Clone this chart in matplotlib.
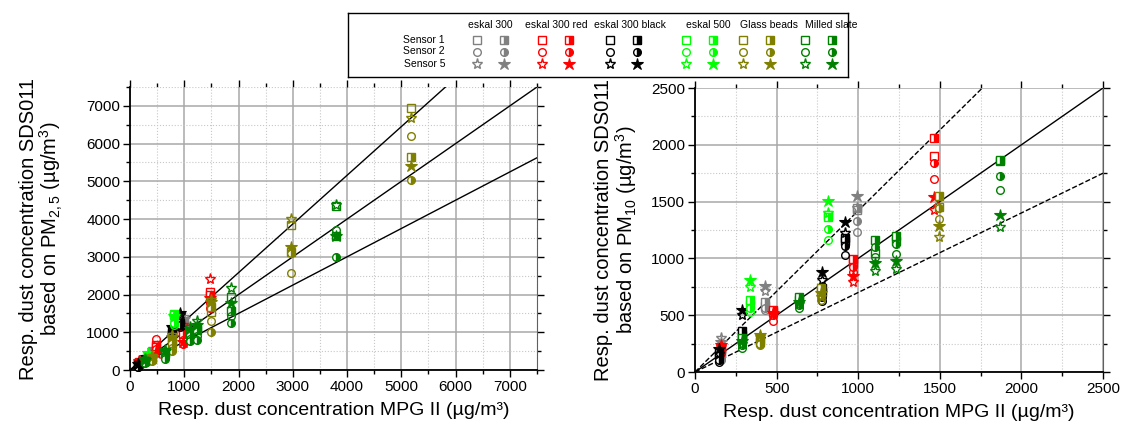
import matplotlib
matplotlib.use("Agg")
import matplotlib.pyplot as plt
from matplotlib.ticker import MultipleLocator

plt.rcParams['font.family'] = ['Liberation Sans', 'DejaVu Sans']
plt.rcParams['mathtext.fontset'] = 'custom'
plt.rcParams['mathtext.rm'] = 'Liberation Sans'
plt.rcParams['mathtext.it'] = 'Liberation Sans:italic'

# ==========================================
# Data
# ==========================================

materials = ["eskal 300", "eskal 300 red", "eskal 300 black", "eskal 500", "Glass beads", "Milled slate"]
colors = ["#808080", "#ff0000", "#000000", "#00ff00", "#808000", "#008000"]
sensors = ["Sensor 1", "Sensor 2", "Sensor 5"]
markers = ["s", "o", "*"]

# rows of every y table: S1 open, S1 half, S2 open, S2 half, S5 open, S5 half

# --- PM2.5 (left) ---
pm25_x_e300 = [160, 430, 990]
pm25_y_e300 = [[170, 480, 1300], [150, 450, 1250], [120, 420, 1200],
               [110, 400, 1180], [220, 560, 1400], [200, 520, 1350]]

pm25_x_red = [160, 470, 970, 1470]
pm25_y_red = [[200, 650, 1000, 2080], [180, 600, 950, 1980], [150, 820, 800, 1770],
              [140, 560, 700, 1650], [250, 480, 1200, 2420], [230, 450, 750, 1900]]

pm25_x_black = [150, 290, 780, 920]
pm25_y_black = [[130, 280, 1000, 1200], [120, 260, 950, 1250], [90, 220, 900, 1150],
                [80, 230, 880, 1180], [150, 320, 1100, 1450], [170, 350, 1150, 1500]]

pm25_x_e500 = [340, 810]
pm25_y_e500 = [[380, 1480], [360, 1450], [300, 1200],
               [320, 1250], [420, 1400], [450, 1420]]

pm25_x_glass = [400, 770, 1500, 2960, 5175]
pm25_y_glass = [[330, 780, 1550, 3850, 6950], [300, 720, 1680, 3140, 5640],
                [260, 580, 1300, 2580, 6210], [240, 500, 1020, 3100, 5040],
                [380, 920, 1860, 4000, 6680], [350, 880, 1800, 3270, 5410]]

pm25_x_slate = [285, 640, 1100, 1230, 1870, 3800]
pm25_y_slate = [[250, 480, 1000, 1150, 1945, 4340], [230, 430, 950, 1050, 1575, 3540],
                [200, 350, 820, 900, 1420, 3714], [190, 300, 760, 800, 1255, 3005],
                [280, 530, 1150, 1300, 2166, 4370], [270, 500, 1080, 1200, 1768, 3560]]

# --- PM10 (right) ---
pm10_x_e300 = [160, 430, 990]
pm10_y_e300 = [[180, 580, 1430], [170, 620, 1440], [120, 545, 1230],
               [110, 560, 1330], [300, 710, 1440], [260, 760, 1545]]

pm10_x_red = [160, 475, 970, 1465]
pm10_y_red = [[200, 530, 960, 1900], [210, 550, 992, 2057], [170, 445, 883, 1702],
              [180, 500, 921, 1837], [220, 510, 795, 1426], [240, 520, 845, 1543]]

pm10_x_black = [150, 290, 780, 920]
pm10_y_black = [[150, 330, 707, 1150], [180, 360, 736, 1176], [90, 280, 628, 1030],
                [110, 300, 663, 1112], [160, 502, 810, 1226], [200, 546, 883, 1323]]

pm10_x_e500 = [340, 815]
pm10_y_e500 = [[590, 1380], [634, 1361], [531, 1162],
               [566, 1259], [751, 1397], [810, 1508]]

pm10_x_glass = [400, 770, 1495]
pm10_y_glass = [[267, 722, 1455], [280, 736, 1549], [238, 634, 1344],
                [250, 678, 1446], [305, 663, 1191], [326, 692, 1285]]

pm10_x_slate = [285, 640, 1100, 1230, 1870]
pm10_y_slate = [[280, 634, 1045, 1150, 1860], [300, 663, 1162, 1200, 1866],
                [210, 560, 1015, 1039, 1602], [240, 590, 1103, 1127, 1725],
                [250, 600, 892, 904, 1279], [270, 620, 962, 977, 1382]]

pm25_x = [pm25_x_e300, pm25_x_red, pm25_x_black, pm25_x_e500, pm25_x_glass, pm25_x_slate]
pm25_y = [pm25_y_e300, pm25_y_red, pm25_y_black, pm25_y_e500, pm25_y_glass, pm25_y_slate]
pm10_x = [pm10_x_e300, pm10_x_red, pm10_x_black, pm10_x_e500, pm10_x_glass, pm10_x_slate]
pm10_y = [pm10_y_e300, pm10_y_red, pm10_y_black, pm10_y_e500, pm10_y_glass, pm10_y_slate]

# reference line slopes
pm25_slopes = [1.29, 1.0, 0.75]
pm10_slopes = [1.42, 1.0, 0.70]
pm10_styles = ["--", "-", "--"]


# ==========================================
# Helpers
# ==========================================

def marker_style(k, color):
    m = markers[k // 2]
    size = 8 if m == "*" else 5.5
    if k % 2 == 0:
        return dict(marker=m, ms=size, mfc="none", mec=color, mew=1.0, ls="none")
    if m == "*":
        return dict(marker=m, ms=size + 1, mfc=color, mec=color, mew=0.8, ls="none")
    return dict(marker=m, ms=size, fillstyle="right", mfc=color, mfcalt="white",
                mec=color, mew=1.0, ls="none")


def draw_points(ax, xs, ys):
    for color, x, rows in zip(colors, xs, ys):
        for k, y in enumerate(rows):
            ax.plot(x, y, clip_on=False, zorder=3, **marker_style(k, color))


def style_axes(ax, top, major, minor):
    ax.set_xlim(0, top)
    ax.set_ylim(0, top)
    for axis in (ax.xaxis, ax.yaxis):
        axis.set_major_locator(MultipleLocator(major))
        axis.set_minor_locator(MultipleLocator(minor))
    ax.grid(True, which="major", color="#a8a8a8", lw=1.1, ls="-")
    ax.grid(True, which="minor", color="#c8c8c8", lw=0.8, ls=":")
    ax.set_axisbelow(True)
    ax.tick_params(which="both", direction="out", top=True, right=True,
                   labelsize=11, width=1.0, pad=2)
    ax.tick_params(which="major", length=5)
    ax.tick_params(which="minor", length=3)
    for side in ("left", "bottom"):
        ax.spines[side].set_linewidth(1.3)
    ax.spines["top"].set_visible(False)
    ax.spines["right"].set_color("#606060")
    ax.set_xlabel("Resp. dust concentration MPG II (µg/m³)", fontsize=14, labelpad=6)


# ==========================================
# Figure
# ==========================================

fig = plt.figure(figsize=(11.22, 4.30), dpi=100)

ax1 = fig.add_axes([130 / 1122, 60 / 430, 407 / 1122, 283 / 430])
style_axes(ax1, 7500, 1000, 500)
for s in pm25_slopes:
    ax1.plot([0, 7500], [0, 7500 * s], color="black", lw=1.0, zorder=2)
draw_points(ax1, pm25_x, pm25_y)
ax1.set_xticks(range(0, 7001, 1000))
ax1.set_yticks(range(0, 7001, 1000))
ax1.set_xlim(0, 7500)
ax1.set_ylim(0, 7500)
ax1.set_ylabel("Resp. dust concentration SDS011\nbased on PM$_{2,5}$ (µg/m$^3$)",
               fontsize=14.5, linespacing=1.0, labelpad=15)

ax2 = fig.add_axes([695 / 1122, 58 / 430, 408 / 1122, 284 / 430])
style_axes(ax2, 2500, 500, 250)
for s, ls in zip(pm10_slopes, pm10_styles):
    ax2.plot([0, 2500], [0, 2500 * s], color="black", lw=1.0, ls=ls, zorder=2)
draw_points(ax2, pm10_x, pm10_y)
ax2.set_xlim(0, 2500)
ax2.set_ylim(0, 2500)
ax2.set_ylabel("Resp. dust concentration SDS011\nbased on PM$_{10}$ (µg/m$^3$)",
               fontsize=14.5, linespacing=1.0, labelpad=9)

# ==========================================
# Legend box
# ==========================================

leg_left, leg_top, leg_w, leg_h = 348, 13, 500, 64
axl = fig.add_axes([leg_left / 1122, 1 - (leg_top + leg_h) / 430, leg_w / 1122, leg_h / 430])
axl.set_xlim(0, leg_w)
axl.set_ylim(leg_h, 0)
axl.set_xticks([])
axl.set_yticks([])
for sp in axl.spines.values():
    sp.set_linewidth(1.0)

col_open = [129, 194, 262, 338, 395, 457]
head_x = [142, 208, 282, 360, 421, 483]
row_y = [27, 38.5, 51]
for i, (name, color) in enumerate(zip(materials, colors)):
    x0 = col_open[i]
    axl.text(head_x[i], 12, name, fontsize=7.5, ha="center", va="center")
    for r in range(3):
        axl.plot(x0, row_y[r], **marker_style(2 * r, color))
        axl.plot(x0 + 27, row_y[r], **marker_style(2 * r + 1, color))
for r, label in enumerate(sensors):
    axl.text(97, row_y[r], label, fontsize=7.5, ha="right", va="center")

fig.savefig("out.png", dpi=100)
